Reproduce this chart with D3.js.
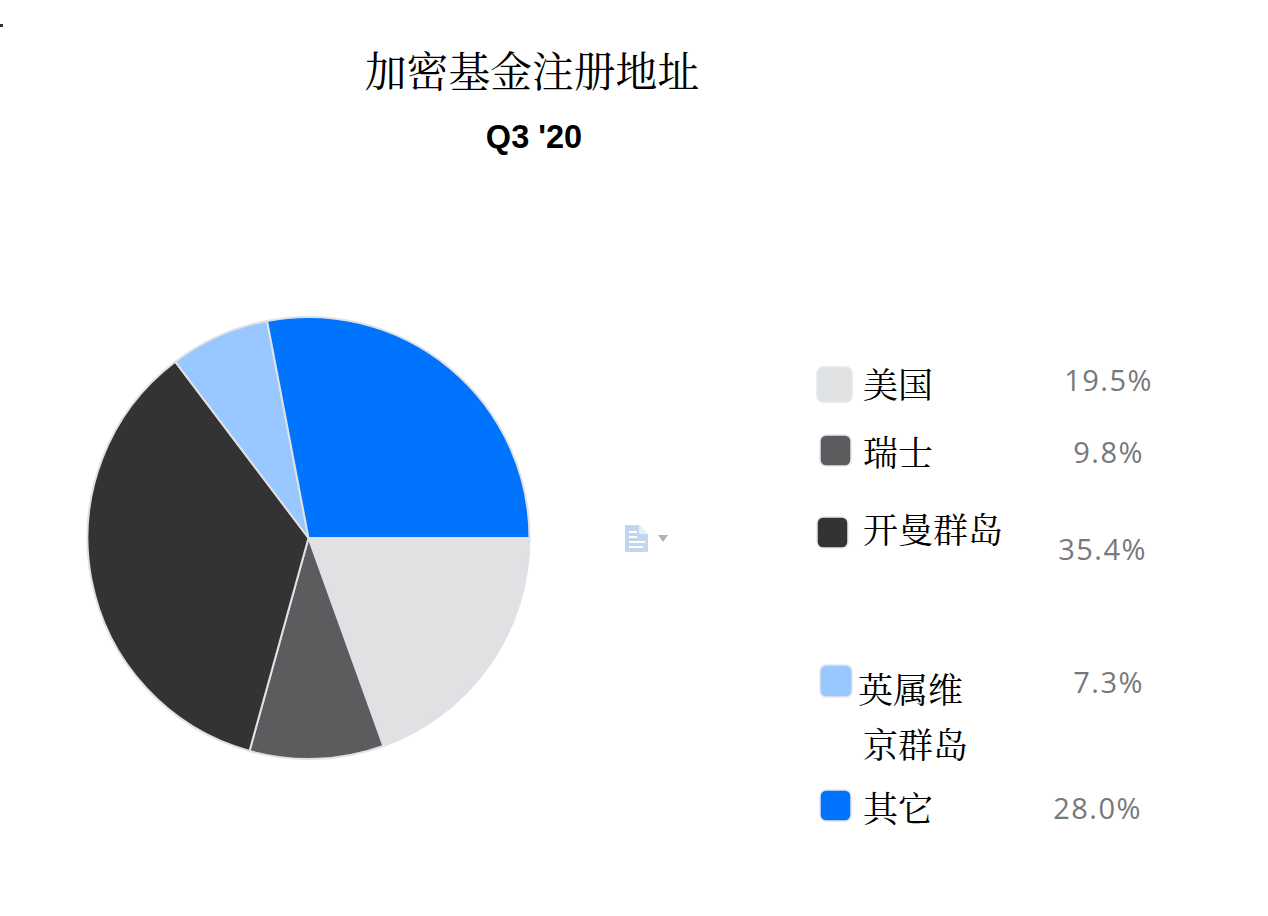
<!DOCTYPE html>
<html><head><meta charset="utf-8">
<script src="https://cdn.jsdelivr.net/npm/d3@7/dist/d3.min.js"></script>
<style>html,body{margin:0;padding:0;background:#fff;overflow:hidden}svg{display:block}</style>
</head><body><div id="c"></div>
<script>
const categories = ["美国","瑞士","开曼群岛","英属维京群岛","其它"];
const values = [19.5,9.8,35.4,7.3,28.0];
const valueLabels = ["19.5%","9.8%","35.4%","7.3%","28.0%"];
const colors = ["#e0e1e3","#5b5c5e","#333333","#99c7ff","#0073ff"];
const titleText = "加密基金注册地址";
const subtitleText = "Q3 '20";

// legend layout, per row: swatch x/y/size, label lines, value position
const legendLayout = [
 {sx:817,sy:367,ss:35,lines:[[863,398,"美国"]],vx:1153,vy:391},
 {sx:820,sy:435,ss:31,lines:[[863,466,"瑞士"]],vx:1144,vy:463},
 {sx:817,sy:517,ss:31,lines:[[863,543,"开曼群岛"]],vx:1147,vy:560},
 {sx:820,sy:665,ss:32,lines:[[858,703,"英属维"],[863,758,"京群岛"]],vx:1144,vy:693},
 {sx:820,sy:790,ss:31,lines:[[863,822,"其它"]],vx:1142,vy:819}
];
const W=1268,H=916;
const svg=d3.select("#c").append("svg").attr("width",W).attr("height",H);
const cjk="'Noto Serif CJK SC','Noto Sans CJK SC','Liberation Serif',serif";

svg.append("rect").attr("x",0).attr("y",24).attr("width",3).attr("height",3).attr("fill","#333");

svg.append("text").attr("x",532).attr("y",87).attr("text-anchor","middle")
 .style("font-family",cjk).style("font-size","41.8px").attr("fill","#000").text(titleText);
svg.append("text").attr("x",534).attr("y",148).attr("text-anchor","middle")
 .style("font-family","'Liberation Sans',Arial,sans-serif").style("font-weight","bold").style("font-size","32.5px").attr("fill","#000").text(subtitleText);

const pie=d3.pie().sort(null).value(d=>d).startAngle(Math.PI/2).endAngle(Math.PI*2.5);
const arc=d3.arc().innerRadius(0).outerRadius(221);
const g=svg.append("g").attr("transform","translate(308.5,538)");
g.selectAll("path").data(pie(values)).join("path")
 .attr("d",arc).attr("fill",(d,i)=>colors[i]).attr("stroke","#dfe1e6").attr("stroke-width",2).attr("stroke-linejoin","round");

const rows=svg.append("g").selectAll("g").data(categories).join("g");
rows.append("rect")
 .attr("x",(d,i)=>legendLayout[i].sx).attr("y",(d,i)=>legendLayout[i].sy)
 .attr("width",(d,i)=>legendLayout[i].ss).attr("height",(d,i)=>legendLayout[i].ss)
 .attr("rx",6).attr("fill",(d,i)=>colors[i]).attr("stroke","#e4e8ef").attr("stroke-width",1.5);
rows.each(function(d,i){
 d3.select(this).selectAll("text.l").data(legendLayout[i].lines).join("text").attr("class","l")
  .attr("x",l=>l[0]).attr("y",l=>l[1]).text(l=>l[2])
  .style("font-family",cjk).style("font-size","35px").attr("fill","#000");
});
rows.append("text").attr("x",(d,i)=>legendLayout[i].vx).attr("y",(d,i)=>legendLayout[i].vy)
 .attr("text-anchor","end").text((d,i)=>valueLabels[i])
 .style("font-family","'Open Sans','Noto Sans',sans-serif").style("font-size","29px").style("letter-spacing","1.5px").attr("fill","#77787b");

// small document icon
const ic=svg.append("g").attr("transform","translate(625,525)");
ic.append("path").attr("d","M0 0H14L23 9V27H0Z").attr("fill","#c2d6ee");
ic.append("path").attr("d","M14 0L23 9H14Z").attr("fill","#e8f0f9");
ic.append("path").attr("d","M4 7H12M4 12H12M4 17H20M4 22H18").attr("stroke","#fff").attr("stroke-width",2);
svg.append("path").attr("d","M658 535H668L663 542Z").attr("fill","#b3b3b3");
</script></body></html>
